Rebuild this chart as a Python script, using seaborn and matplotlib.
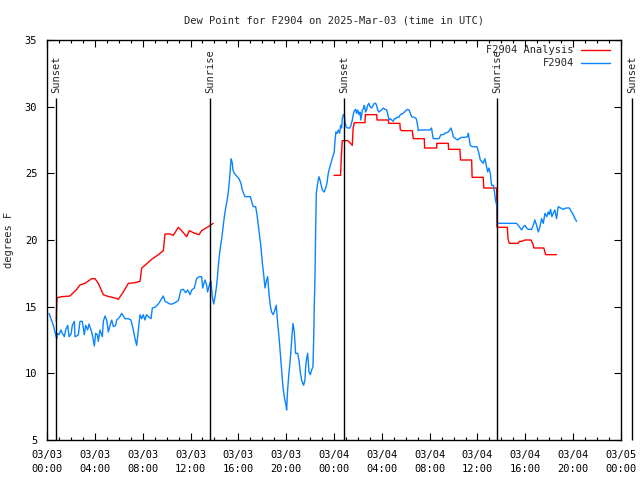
import numpy as np
import pandas as pd
import matplotlib
matplotlib.use("Agg")
import matplotlib.pyplot as plt
import seaborn as sns
from matplotlib.ticker import MultipleLocator

# hours since 2025-03-03 00:00 UTC
analysis_hours_day1 = [0.78, 0.80, 0.84, 1.23, 1.92, 2.48, 2.76, 3.18, 3.73, 4.01, 4.29, 4.71,
                       4.99, 5.69, 5.96, 6.38, 6.80, 7.36, 7.78, 7.92, 8.19, 8.75, 9.31, 9.73,
                       9.87, 10.28, 10.56, 10.98, 11.26, 11.68, 11.90, 12.23, 12.71, 12.93,
                       13.49, 13.90]
analysis_dew_day1 = [13.9, 14.8, 15.67, 15.75, 15.8, 16.3, 16.63, 16.75, 17.1, 17.1, 16.75, 15.9,
                     15.8, 15.65, 15.55, 16.1, 16.75, 16.8, 16.9, 17.9, 18.1, 18.55, 18.9, 19.2,
                     20.45, 20.45, 20.35, 20.95, 20.7, 20.25, 20.7, 20.55, 20.4, 20.7,
                     21.0, 21.25]

analysis_hours_day2 = [24.0, 24.55, 24.6, 24.69, 25.14, 25.33, 25.53, 25.6, 25.70, 26.59, 26.62,
                       27.57, 27.6, 28.54, 28.57, 29.51, 29.54, 29.65, 30.55, 30.63, 31.55,
                       31.58, 32.58, 32.6, 33.56, 33.58, 34.53, 34.58, 35.51, 35.55, 36.48,
                       36.52, 37.6, 37.63, 38.49, 38.55, 38.66, 39.41, 39.5, 39.69, 39.97,
                       40.47, 40.61, 40.72, 41.55, 41.69, 42.61]
analysis_dew_day2 = [24.85, 24.85, 26.0, 27.45, 27.45, 27.3, 27.1, 28.4, 28.8, 28.8, 29.4,
                     29.4, 29.0, 29.0, 28.75, 28.75, 28.3, 28.2, 28.2, 27.6, 27.6,
                     26.9, 26.9, 27.25, 27.25, 26.8, 26.8, 26.0, 26.0, 24.7, 24.7,
                     23.9, 23.9, 20.95, 20.95, 20.1, 19.75, 19.75, 19.9, 19.9, 20.0,
                     20.0, 19.75, 19.4, 19.4, 18.9, 18.9]

obs_hours = [0.17, 0.33, 0.53, 0.67, 0.81, 0.89, 1.00, 1.17, 1.28, 1.45, 1.56, 1.73, 1.84, 2.01,
             2.12, 2.29, 2.34, 2.48, 2.62, 2.76, 2.95, 3.12, 3.23, 3.40, 3.51, 3.68, 3.79, 3.96,
             4.07, 4.21, 4.29, 4.43, 4.63, 4.71, 4.85, 4.99, 5.13, 5.27, 5.41, 5.55, 5.74, 5.83,
             5.96, 6.10, 6.24, 6.52, 6.80, 7.02, 7.22, 7.36, 7.50, 7.64, 7.78, 7.92, 8.05, 8.19,
             8.33, 8.47, 8.70, 8.81, 9.03, 9.31, 9.73, 9.87, 10.28, 10.48, 10.70, 10.98, 11.20,
             11.40, 11.59, 11.76, 11.96, 12.10, 12.32, 12.51, 12.71, 12.93, 13.02,
             13.21, 13.35, 13.43, 13.54, 13.63, 13.71, 13.82, 13.94, 14.05, 14.16, 14.27, 14.38,
             14.49, 14.61, 14.72, 14.83, 14.94, 15.05, 15.16, 15.27, 15.39, 15.50, 15.55, 15.66,
             15.86, 16.05, 16.22, 16.33, 16.44, 16.56, 16.78, 17.00, 17.11, 17.25, 17.45, 17.56,
             17.67, 17.78, 17.89, 18.01, 18.12, 18.23, 18.34, 18.45, 18.56, 18.67, 18.78, 18.92,
             19.06, 19.17, 19.29, 19.40, 19.51, 19.62, 19.73, 19.84, 19.96, 20.04, 20.12, 20.23,
             20.35, 20.46, 20.57, 20.68, 20.79, 20.96, 21.07, 21.18, 21.29, 21.46, 21.57, 21.63,
             21.71, 21.80, 21.91, 22.02, 22.13, 22.24, 22.30, 22.35, 22.41, 22.47, 22.52, 22.63,
             22.74, 22.86, 23.02, 23.19, 23.30, 23.41, 23.52, 23.63, 23.74, 23.85, 24.02,
             24.08, 24.16, 24.25, 24.36, 24.47, 24.55, 24.64, 24.69, 24.78, 24.86, 24.92, 25.00,
             25.14, 25.33, 25.42, 25.53, 25.61, 25.70, 25.81, 25.89, 25.98, 26.09, 26.17, 26.25,
             26.37, 26.48, 26.53, 26.59, 26.64, 26.73, 26.81, 26.92, 27.01, 27.15, 27.28, 27.37,
             27.48, 27.56, 27.65, 27.76, 27.87, 27.98, 28.12, 28.26, 28.40, 28.48, 28.60, 28.71,
             28.82, 28.96, 29.04, 29.15, 29.26, 29.43, 29.54, 29.79, 29.99, 30.16, 30.27, 30.38,
             30.49, 30.71, 30.88, 30.99, 31.05, 31.16, 31.38, 31.74, 32.02, 32.16, 32.22, 32.30,
             32.58, 32.78, 32.94, 33.14, 33.28, 33.55, 33.78, 33.89, 33.97, 34.17, 34.34, 34.45,
             34.67, 34.95, 35.17, 35.23, 35.31, 35.39, 35.56, 35.73, 35.95, 36.12, 36.23, 36.34,
             36.48, 36.62, 36.76, 36.85, 36.96, 37.07, 37.18, 37.32, 37.40, 37.52, 37.57, 37.63,
             37.66, 38.16, 38.71, 39.27, 39.49, 39.69, 39.83, 39.97, 40.10, 40.24, 40.52, 40.66,
             40.80, 40.94, 41.08, 41.22, 41.36, 41.50, 41.64, 41.78, 41.92, 42.00, 42.11, 42.22,
             42.33, 42.47, 42.61, 42.75, 42.95, 43.17, 43.40, 43.68, 43.87, 44.01, 44.15, 44.29]
obs_dew = [14.5, 14.1, 13.6, 13.1, 12.6, 13.0, 12.9, 13.25, 13.0, 12.75, 13.25, 13.6, 12.75, 12.95,
           13.6, 13.9, 12.75, 12.8, 12.9, 13.9, 13.9, 12.9, 13.6, 13.25, 13.7, 13.25, 12.9, 12.05,
           13.0, 12.9, 12.4, 13.25, 12.75, 13.9, 14.3, 14.0, 13.1, 13.6, 14.0, 13.5, 13.6, 14.0,
           14.1, 14.25, 14.5, 14.1, 14.1, 14.0, 13.25, 12.6, 12.1, 13.25, 14.4, 14.1, 14.4, 14.0,
           14.4, 14.25, 14.1, 14.9, 14.95, 15.2, 15.8, 15.4, 15.2, 15.2, 15.3, 15.45, 16.25,
           16.3, 16.05, 16.25, 15.9, 16.25, 16.4, 17.1, 17.25, 17.25, 16.4,
           17.0, 16.6, 16.1, 16.5, 16.75, 16.9, 15.75, 15.2, 15.75, 16.4, 17.4, 18.6,
           19.4, 20.1, 20.9, 21.75, 22.4, 22.9, 23.6, 24.6, 26.1, 25.75, 25.25, 25.0,
           24.8, 24.6, 24.25, 23.75, 23.5, 23.25, 23.25, 23.25, 22.9, 22.5, 22.5, 21.9,
           21.1, 20.25, 19.5, 18.25, 17.4, 16.4, 16.9, 17.25, 16.0, 15.1, 14.6, 14.4,
           14.75, 15.1, 13.75, 12.75, 11.5, 10.25, 9.0, 8.25, 7.75, 7.25, 8.75, 10.0,
           11.1, 12.5, 13.75, 13.1, 11.5, 11.5, 11.0, 10.1, 9.5, 9.1, 9.5, 10.5,
           11.1, 11.5, 10.1, 9.9, 10.25, 10.5, 12.5, 15.0, 17.25, 21.1, 23.5, 24.25,
           24.75, 24.4, 23.75, 23.6, 23.9, 24.25, 25.0, 25.4, 25.75, 26.1, 26.6,
           27.4, 28.1, 28.0, 28.25, 28.0, 28.6, 28.4, 29.1, 29.4, 29.4, 28.9, 28.5,
           28.4, 28.4, 28.6, 29.0, 29.4, 29.7, 29.8, 29.5, 29.75, 29.4, 29.6, 29.0,
           29.75, 29.9, 30.1, 29.9, 29.6, 29.75, 30.1, 30.25, 30.0, 29.9, 30.1, 30.25,
           30.25, 30.1, 29.75, 29.6, 29.7, 29.75, 29.9, 29.8, 29.75, 29.5, 29.0, 29.1,
           29.0, 28.9, 29.1, 29.1, 29.2, 29.2, 29.4, 29.5, 29.7, 29.8, 29.75, 29.5,
           29.25, 29.2, 29.1, 28.6, 28.2, 28.25, 28.25, 28.25, 28.25, 28.4, 28.0, 27.6,
           27.6, 27.6, 27.9, 27.9, 28.0, 28.1, 28.4, 28.1, 27.75, 27.6, 27.5, 27.6,
           27.7, 27.7, 27.75, 28.0, 27.6, 27.1, 27.0, 27.0, 27.0, 26.5, 26.0, 25.9,
           25.75, 26.1, 25.5, 25.1, 25.4, 25.0, 24.1, 24.1, 23.75, 22.9, 22.75, 22.5,
           21.25, 21.25, 21.25, 21.25, 21.0, 20.75, 21.0, 21.1, 20.9, 20.8, 20.8, 21.1,
           21.5, 21.1, 20.6, 21.0, 21.6, 21.25, 22.0, 21.75, 22.1, 21.9, 22.3, 21.75,
           22.0, 22.25, 21.6, 22.5, 22.4, 22.3, 22.4, 22.4, 22.1, 21.9, 21.6, 21.4]

sun_hours = [0.75, 13.66, 24.86, 37.65, 48.94]
sun_labels = ["Sunset", "Sunrise", "Sunset", "Sunrise", "Sunset"]

tick_hours = list(range(0, 49, 4))
tick_labels = ["03/03\n00:00", "03/03\n04:00", "03/03\n08:00", "03/03\n12:00", "03/03\n16:00",
               "03/03\n20:00", "03/04\n00:00", "03/04\n04:00", "03/04\n08:00", "03/04\n12:00",
               "03/04\n16:00", "03/04\n20:00", "03/05\n00:00"]

RED = "#ff0000"
BLUE = "#0a84ff"

sns.set_style("ticks")
plt.rcParams["font.family"] = ["DejaVu Sans Mono"]
plt.rcParams["font.size"] = 7.5

fig = plt.figure(figsize=(6.4, 4.8), dpi=100)
ax = fig.add_axes([47 / 640, 40 / 480, 574 / 640, 400 / 480])

day1 = pd.DataFrame({"hour": analysis_hours_day1, "dew": analysis_dew_day1})
day2 = pd.DataFrame({"hour": analysis_hours_day2, "dew": analysis_dew_day2})
obs = pd.DataFrame({"hour": obs_hours, "dew": obs_dew})

for seg in (day1, day2):
    sns.lineplot(data=seg, x="hour", y="dew", ax=ax, color=RED, linewidth=1.0,
                 sort=False, estimator=None)
sns.lineplot(data=obs, x="hour", y="dew", ax=ax, color=BLUE, linewidth=1.0,
             sort=False, estimator=None)

# sunrise / sunset markers
for t, lab in zip(sun_hours, sun_labels):
    ax.vlines(t, 5, 30.65, color="black", linewidth=1.0, clip_on=False)
    ax.text(t, 31.0, lab, rotation=90, ha="center", va="bottom", fontsize=7.5, clip_on=False)

ax.set_xlim(0, 48)
ax.set_ylim(5, 35)
ax.set_xticks(tick_hours)
ax.set_xticklabels(tick_labels, linespacing=1.5)
ax.xaxis.set_minor_locator(MultipleLocator(1))
ax.set_yticks(range(5, 36, 5))
ax.tick_params(which="both", direction="in", top=True, right=True, colors="black")
ax.tick_params(which="major", length=5, width=0.8)
ax.tick_params(which="minor", length=2.5, width=0.8)
ax.tick_params(axis="x", pad=7)
ax.tick_params(axis="y", pad=7)
for sp in ax.spines.values():
    sp.set_visible(True)
    sp.set_color("black")
    sp.set_linewidth(1.0)

ax.set_xlabel("")
ax.set_ylabel("degrees F", labelpad=8)
ax.set_title("Dew Point for F2904 on 2025-Mar-03 (time in UTC)", fontsize=7.5, pad=12)

# key, gnuplot style: right-aligned text, sample line on the right
keys = [("F2904 Analysis", RED), ("F2904", BLUE)]
for i, (lab, col) in enumerate(keys):
    yk = 0.975 - i * 0.0325
    ax.text(0.918, yk, lab, transform=ax.transAxes, ha="right", va="center", fontsize=7.5)
    ax.plot([0.930, 0.981], [yk, yk], transform=ax.transAxes, color=col, linewidth=1.0)

fig.savefig("out.png", dpi=100)
